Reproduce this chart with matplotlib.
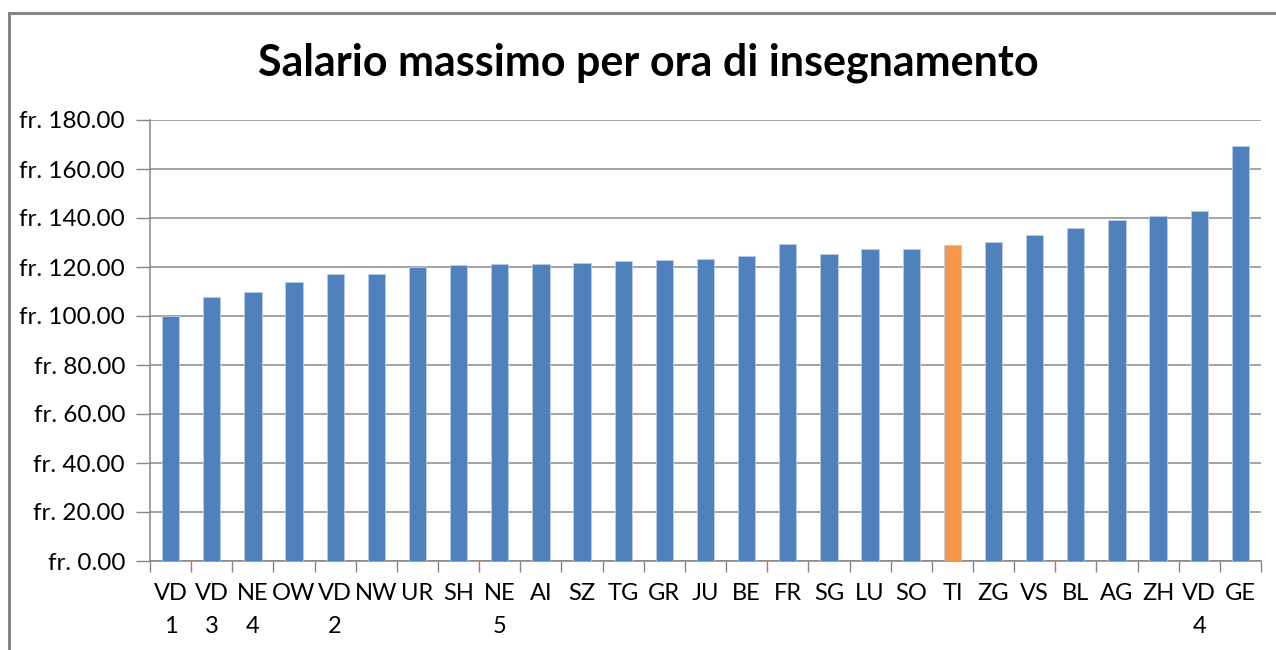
import matplotlib
matplotlib.use("Agg")
import matplotlib.pyplot as plt
from matplotlib.patches import Rectangle
from matplotlib.ticker import FuncFormatter, MultipleLocator
import numpy as np

plt.rcParams['font.family'] = ['Lato', 'DejaVu Sans']

categories = ["VD\n1", "VD\n3", "NE\n4", "OW", "VD\n2", "NW", "UR", "SH", "NE\n5",
              "AI", "SZ", "TG", "GR", "JU", "BE", "FR", "SG", "LU", "SO", "TI",
              "ZG", "VS", "BL", "AG", "ZH", "VD\n4", "GE"]
values = [99.8, 107.6, 109.7, 113.8, 117.1, 117.1, 120.1, 120.8, 121.2,
          121.2, 121.8, 122.4, 122.9, 123.2, 124.4, 129.3, 125.2, 127.2, 127.2, 128.9,
          130.4, 132.9, 135.9, 139.0, 140.9, 143.0, 169.2]
highlight = "TI"
title = "Salario massimo per ora di insegnamento"

W, H = 1276, 650
fig = plt.figure(figsize=(W / 100, H / 100), dpi=100)
fig.patch.set_facecolor("white")

# outer chart frame (top and left edges visible)
fig.add_artist(Rectangle((8.5 / W, -0.1), 1.2, (H - 12.5) / H + 0.1,
                         transform=fig.transFigure, fill=False,
                         edgecolor="#868686", linewidth=2.2))

ax = fig.add_axes([150 / W, (H - 561) / H, 1111 / W, 441 / H])
x = np.arange(len(categories))
colors = ["#F79646" if c == highlight else "#4F81BD" for c in categories]
ax.bar(x, values, width=0.42, color=colors, edgecolor="#B9CDE5", linewidth=0.6, zorder=3)

ax.set_xlim(-0.5, len(categories) - 0.5)
ax.set_ylim(0, 180)
ax.yaxis.set_major_locator(MultipleLocator(20))
ax.yaxis.set_major_formatter(FuncFormatter(lambda v, p: f"fr. {v:.2f}"))
ax.grid(axis="y", color="#8C8C8C", linewidth=1.1, zorder=0)
ax.set_axisbelow(True)

ax.set_xticks(x)
ax.set_xticklabels(categories, fontsize=17, linespacing=1.7, va="top")
ax.set_xticks(np.arange(-0.5, len(categories), 1), minor=True)
ax.tick_params(axis="x", which="major", length=0, pad=16)
ax.tick_params(axis="x", which="minor", length=8, color="#868686", width=1)
ax.tick_params(axis="y", length=10, color="#868686", width=1, labelsize=17.5, pad=8)

for s in ["top", "right"]:
    ax.spines[s].set_visible(False)
for s in ["left", "bottom"]:
    ax.spines[s].set_color("#868686")
    ax.spines[s].set_linewidth(1.1)

fig.text(648 / W, 1 - 63 / H, title, ha="center", va="center",
         fontsize=31, fontweight="bold", color="black")

fig.savefig("out.png", dpi=100)
